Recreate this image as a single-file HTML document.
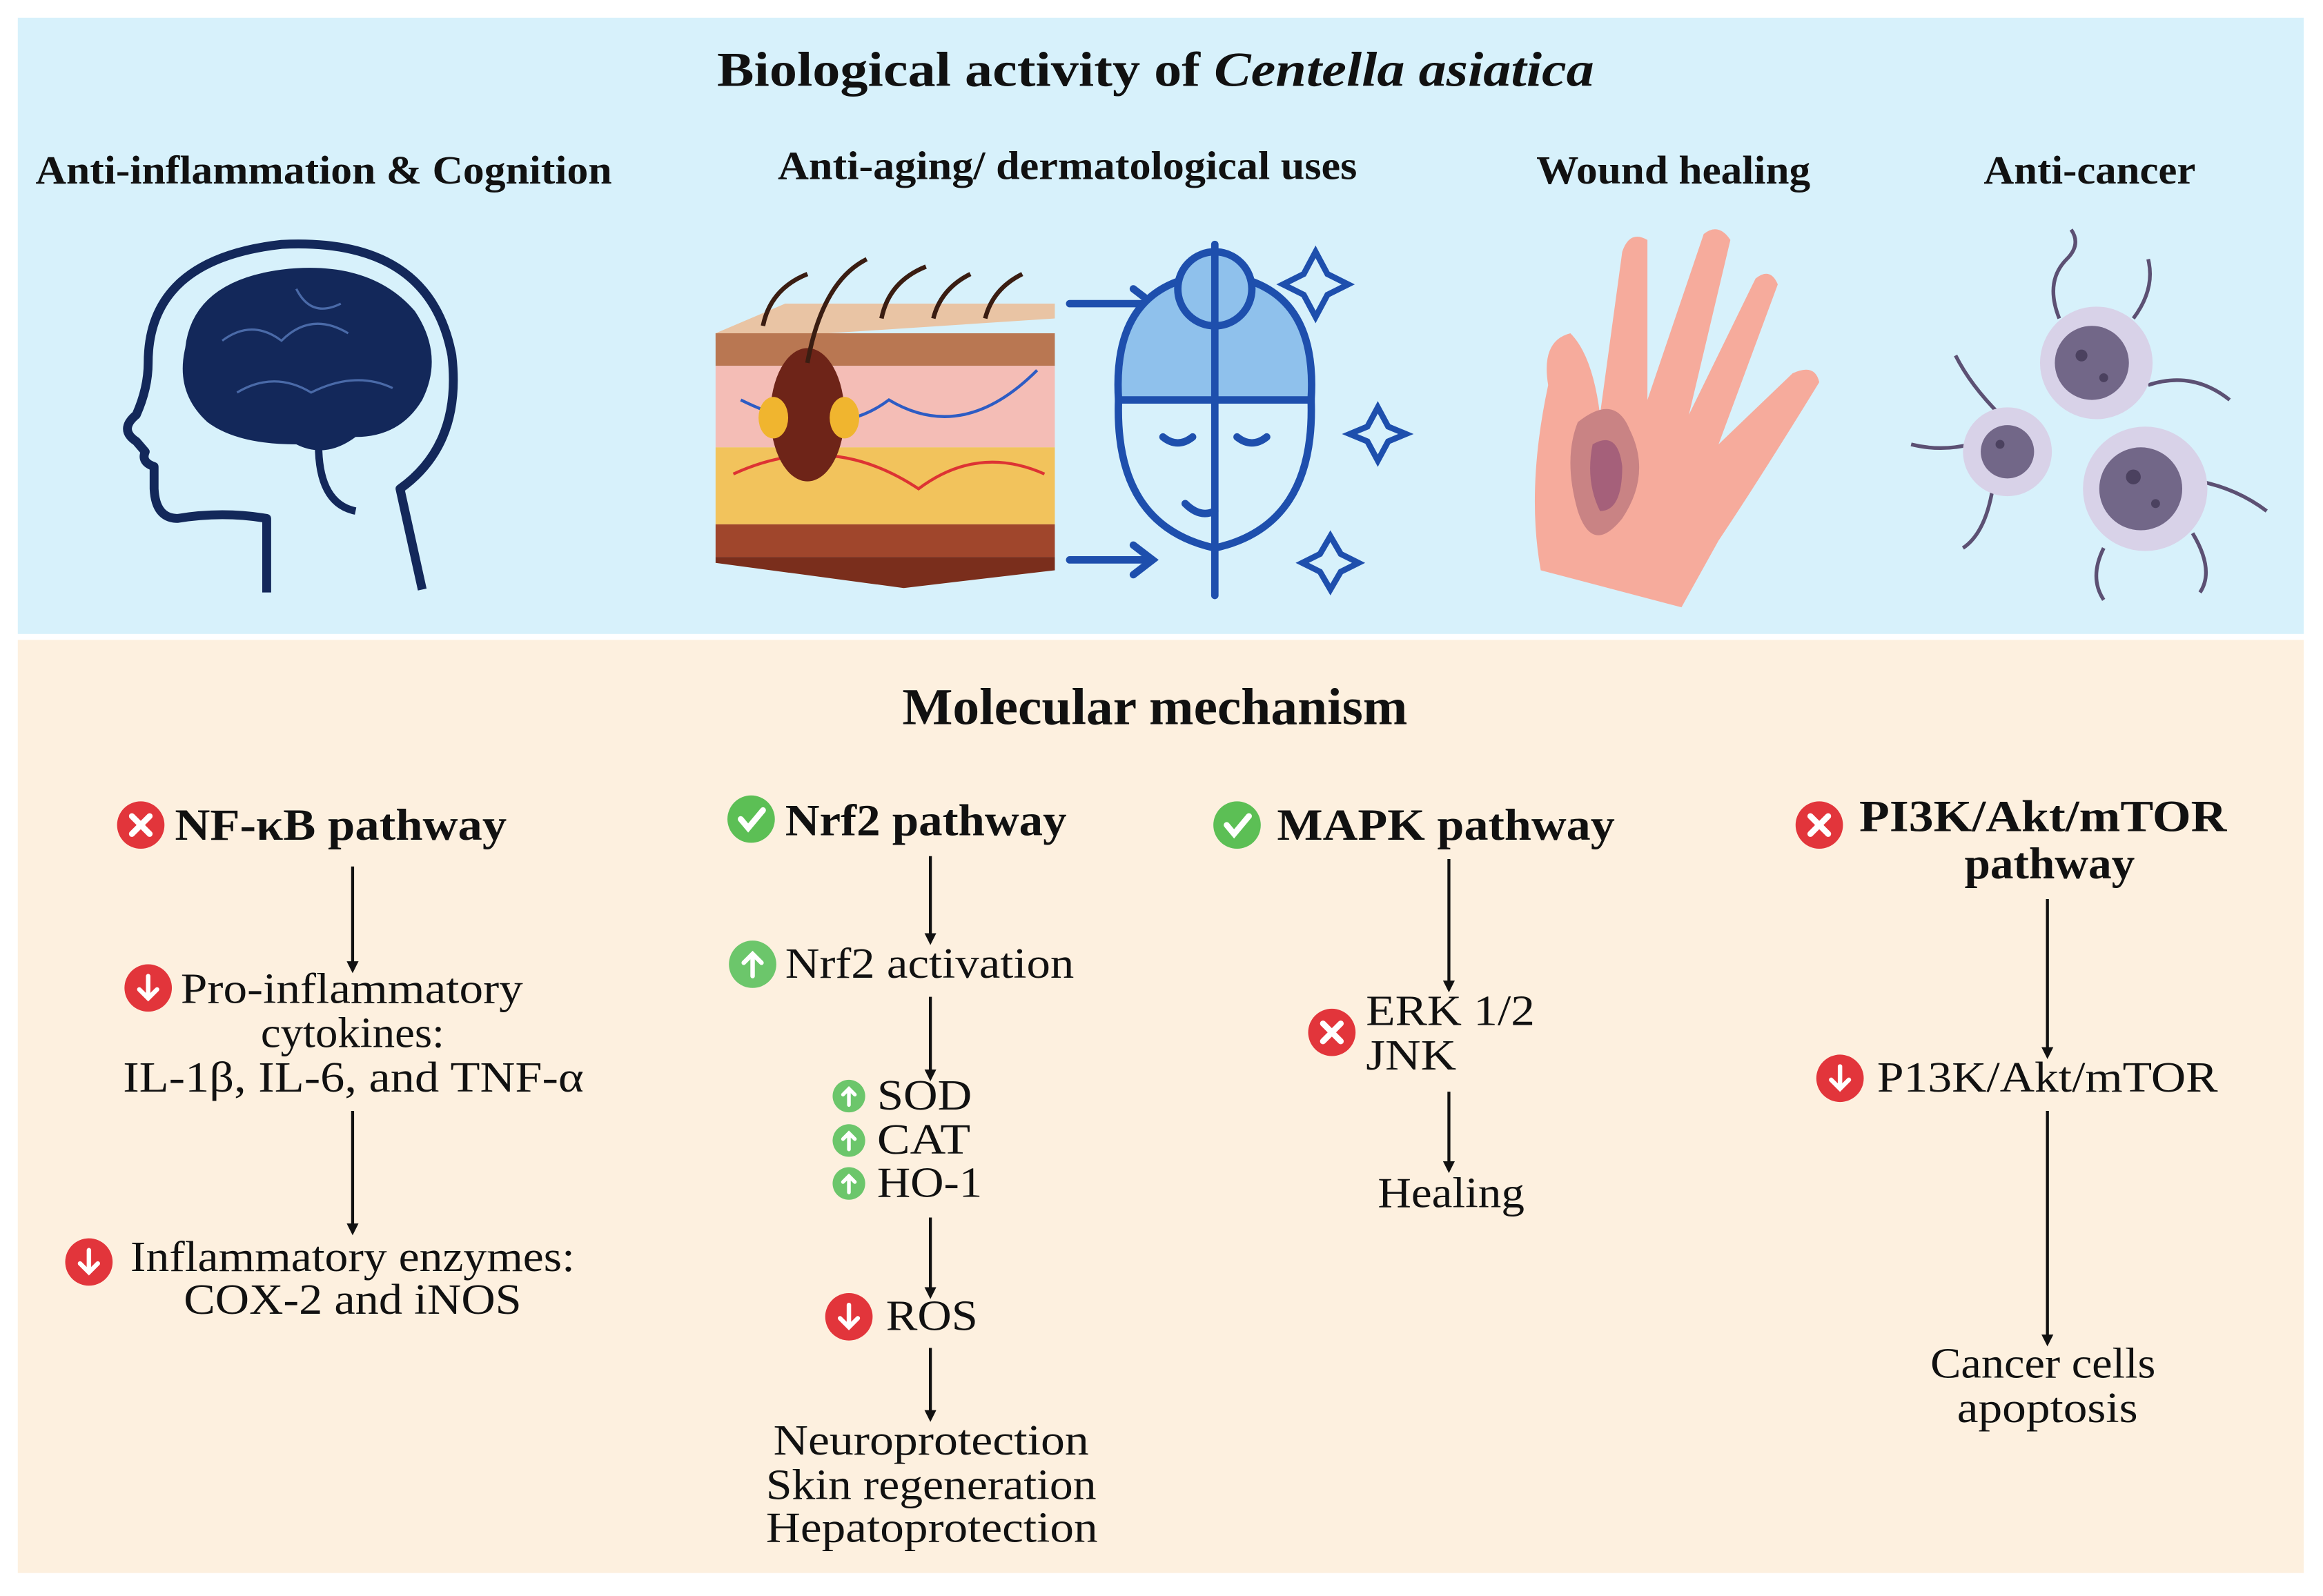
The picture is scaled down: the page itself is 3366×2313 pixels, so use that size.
<!DOCTYPE html>
<html><head><meta charset="utf-8"><style>
html,body{margin:0;padding:0;background:#fff;}
svg{display:block;}
text{font-family:"Liberation Serif",serif;fill:#111;}
.b{font-weight:bold;}
</style></head><body>
<svg width="3366" height="2313" viewBox="0 0 1568 1077.5" xmlns="http://www.w3.org/2000/svg">
<defs>
<marker id="ar" markerWidth="8" markerHeight="8" refX="6" refY="4" orient="auto" markerUnits="userSpaceOnUse">
<path d="M0,0 L8,4 L0,8 Z" fill="#111"/></marker>
<g id="xr"><circle r="16" fill="#e2353b"/><path d="M-6,-6 L6,6 M6,-6 L-6,6" stroke="#fff" stroke-width="4" stroke-linecap="round"/></g>
<g id="ck"><circle r="16" fill="#5cbf55"/><path d="M-7,0 L-2,6 L8,-6" stroke="#fff" stroke-width="4" fill="none" stroke-linecap="round"/></g>
<g id="dn"><circle r="16" fill="#e2353b"/><path d="M0,-8 L0,7 M-6,1 L0,7 L6,1" stroke="#fff" stroke-width="3" fill="none" stroke-linecap="round"/></g>
<g id="up"><circle r="16" fill="#6cc66b"/><path d="M0,8 L0,-7 M-6,-1 L0,-7 L6,-1" stroke="#fff" stroke-width="3" fill="none" stroke-linecap="round"/></g>
<g id="ups"><circle r="11" fill="#6cc66b"/><path d="M0,6 L0,-5 M-4,-1 L0,-5 L4,-1" stroke="#fff" stroke-width="2.5" fill="none" stroke-linecap="round"/></g>
</defs>
<rect x="12" y="12" width="1543" height="416" fill="#d7f1fb"/>
<rect x="12" y="432" width="1543" height="630" fill="#fdf0df"/>

<text x="484" y="58" font-size="33" class="b" textLength="592" lengthAdjust="spacingAndGlyphs">Biological activity of <tspan font-style="italic">Centella asiatica</tspan></text>
<g font-size="27" class="b">
<text x="24" y="124" textLength="389" lengthAdjust="spacingAndGlyphs">Anti-inflammation &amp; Cognition</text>
<text x="525" y="121" textLength="391" lengthAdjust="spacingAndGlyphs">Anti-aging/ dermatological uses</text>
<text x="1037" y="124" textLength="185" lengthAdjust="spacingAndGlyphs">Wound healing</text>
<text x="1339" y="124" textLength="143" lengthAdjust="spacingAndGlyphs">Anti-cancer</text>
</g>

<!-- head & brain -->
<path d="M180,400 L180,350 Q150,345 120,350 Q105,350 104,330 L104,315 Q95,312 98,305 L92,298 Q80,290 92,280 Q100,262 100,245 Q100,175 190,165 Q290,160 305,240 Q312,300 270,330 L285,398" fill="none" stroke="#13285a" stroke-width="6" stroke-linejoin="round"/>
<path d="M125,235 Q130,190 190,182 Q250,175 280,210 Q300,240 285,270 Q270,295 240,295 Q220,310 200,300 Q160,300 140,285 Q118,265 125,235 Z" fill="#13285a"/>
<path d="M215,300 Q215,340 240,345" fill="none" stroke="#13285a" stroke-width="5"/>
<g stroke="#4a6aa8" stroke-width="1.5" fill="none"><path d="M150,230 Q170,215 190,230 Q210,210 235,225"/><path d="M160,265 Q185,250 210,265 Q240,250 265,262"/><path d="M200,195 Q210,215 230,205"/></g>

<!-- skin block -->
<polygon points="483,225 530,205 712,205 712,215 483,230" fill="#e9c4a4"/>
<rect x="483" y="225" width="229" height="22" fill="#b97752"/>
<rect x="483" y="247" width="229" height="55" fill="#f4bdb6"/>
<rect x="483" y="302" width="229" height="52" fill="#f2c35c"/>
<rect x="483" y="354" width="229" height="22" fill="#a0462c"/>
<polygon points="483,376 712,376 712,385 610,397 483,380" fill="#7a2e1c"/>
<path d="M500,270 Q560,300 600,270 Q650,300 700,250" stroke="#2d5cc4" stroke-width="2" fill="none"/>
<path d="M495,320 Q560,290 620,330 Q660,300 705,320" stroke="#d33" stroke-width="2" fill="none"/>
<ellipse cx="545" cy="280" rx="25" ry="45" fill="#6e2418"/>
<ellipse cx="522" cy="282" rx="10" ry="14" fill="#f0b52f"/>
<ellipse cx="570" cy="282" rx="10" ry="14" fill="#f0b52f"/>
<g stroke="#3a1d12" stroke-width="3" fill="none">
<path d="M545,245 Q555,190 585,175"/><path d="M515,220 Q520,195 545,185"/><path d="M595,215 Q600,190 625,180"/><path d="M630,215 Q635,195 655,185"/><path d="M665,215 Q670,195 690,185"/></g>

<!-- face -->
<g stroke="#1e4fad" stroke-width="5" fill="none" stroke-linecap="round">
<path d="M722,205 L778,205 M765,195 L778,205 L765,215"/>
<path d="M722,378 L778,378 M765,368 L778,378 L765,388"/>
<path d="M755,270 Q750,190 820,185 Q890,190 885,270 Z" fill="#8fc1ec"/>
<circle cx="820" cy="195" r="25" fill="#8fc1ec"/>
<path d="M755,270 Q752,355 820,370 Q888,355 885,270"/>
<path d="M820,165 L820,402"/>
<path d="M785,295 Q795,303 805,295 M835,295 Q845,303 855,295"/>
<path d="M800,340 Q810,350 820,345"/>
<path d="M888,170 L896,185 L910,192 L896,199 L888,214 L880,199 L866,192 L880,185 Z" stroke-width="4"/>
<path d="M930,275 L937,288 L949,293 L937,298 L930,311 L923,298 L911,293 L923,288 Z" stroke-width="4"/>
<path d="M898,362 L905,374 L917,380 L905,386 L898,398 L891,386 L879,380 L891,374 Z" stroke-width="4"/>
</g>

<!-- hand -->
<path d="M1040,385 Q1030,330 1045,260 Q1040,230 1060,225 Q1075,240 1080,280 L1095,170 Q1100,155 1112,162 L1112,270 L1150,158 Q1160,150 1168,162 L1140,280 L1185,188 Q1195,180 1200,192 L1160,300 L1210,252 Q1225,245 1228,258 Q1190,320 1160,365 L1135,410 Z" fill="#f6ab9c"/>
<path d="M1065,285 Q1090,265 1100,290 Q1115,320 1095,350 Q1075,375 1065,345 Q1055,310 1065,285 Z" fill="#c98384"/>
<path d="M1075,300 Q1092,290 1095,315 Q1095,345 1080,345 Q1070,325 1075,300 Z" fill="#a5607a"/>

<!-- cells -->
<g stroke="#5c5073" stroke-width="2.5" fill="none">
<path d="M1390,215 Q1380,190 1395,175 Q1405,165 1398,155"/><path d="M1440,215 Q1455,195 1450,175"/>
<path d="M1330,300 Q1310,305 1290,300"/><path d="M1345,330 Q1340,360 1325,370"/><path d="M1350,280 Q1330,260 1320,240"/>
<path d="M1420,370 Q1410,390 1420,405"/><path d="M1480,360 Q1495,385 1485,400"/><path d="M1485,325 Q1510,330 1530,345"/><path d="M1450,260 Q1480,250 1505,270"/>
</g>
<circle cx="1415" cy="245" r="38" fill="#d8d2e8"/><circle cx="1412" cy="245" r="25" fill="#726788"/>
<circle cx="1355" cy="305" r="30" fill="#d8d2e8"/><circle cx="1355" cy="305" r="18" fill="#726788"/>
<circle cx="1448" cy="330" r="42" fill="#d8d2e8"/><circle cx="1445" cy="330" r="28" fill="#726788"/>
<g fill="#4b415f"><circle cx="1405" cy="240" r="4"/><circle cx="1420" cy="255" r="3"/><circle cx="1440" cy="322" r="5"/><circle cx="1455" cy="340" r="3"/><circle cx="1350" cy="300" r="3"/></g>

<text x="609" y="489" font-size="35" class="b" textLength="341" lengthAdjust="spacingAndGlyphs">Molecular mechanism</text>

<g font-size="30" class="b">
<use href="#xr" x="95" y="557"/><text x="118" y="567" textLength="224" lengthAdjust="spacingAndGlyphs">NF-κB pathway</text>
<use href="#ck" x="507" y="553"/><text x="530" y="564" textLength="190" lengthAdjust="spacingAndGlyphs">Nrf2 pathway</text>
<use href="#ck" x="835" y="557"/><text x="862" y="567" textLength="228" lengthAdjust="spacingAndGlyphs">MAPK pathway</text>
<use href="#xr" x="1228" y="557"/><text x="1255" y="561" textLength="248" lengthAdjust="spacingAndGlyphs">PI3K/Akt/mTOR</text>
<text x="1326" y="593" textLength="115" lengthAdjust="spacingAndGlyphs">pathway</text>
</g>

<g stroke="#111" stroke-width="2" marker-end="url(#ar)">
<line x1="238" y1="585" x2="238" y2="655"/><line x1="238" y1="750" x2="238" y2="832"/>
<line x1="628" y1="578" x2="628" y2="636"/><line x1="628" y1="673" x2="628" y2="728"/>
<line x1="628" y1="822" x2="628" y2="875"/><line x1="628" y1="910" x2="628" y2="958"/>
<line x1="978" y1="580" x2="978" y2="668"/><line x1="978" y1="737" x2="978" y2="790"/>
<line x1="1382" y1="607" x2="1382" y2="713"/><line x1="1382" y1="750" x2="1382" y2="907"/>
</g>

<g font-size="29">
<use href="#dn" x="100" y="667"/><text x="122" y="677" textLength="231" lengthAdjust="spacingAndGlyphs">Pro-inflammatory</text>
<text x="238" y="707" text-anchor="middle" textLength="124" lengthAdjust="spacingAndGlyphs">cytokines:</text>
<text x="83" y="737" textLength="311" lengthAdjust="spacingAndGlyphs">IL-1β, IL-6, and TNF-α</text>
<use href="#dn" x="60" y="852"/><text x="88" y="858" textLength="300" lengthAdjust="spacingAndGlyphs">Inflammatory enzymes:</text>
<text x="124" y="887" textLength="228" lengthAdjust="spacingAndGlyphs">COX-2 and iNOS</text>

<use href="#up" x="508" y="651"/><text x="530" y="660" textLength="195" lengthAdjust="spacingAndGlyphs">Nrf2 activation</text>
<use href="#ups" x="573" y="740"/><text x="592" y="749" textLength="64" lengthAdjust="spacingAndGlyphs">SOD</text>
<use href="#ups" x="573" y="770"/><text x="592" y="779" textLength="63" lengthAdjust="spacingAndGlyphs">CAT</text>
<use href="#ups" x="573" y="799"/><text x="592" y="808" textLength="71" lengthAdjust="spacingAndGlyphs">HO-1</text>
<use href="#dn" x="573" y="889"/><text x="598" y="898" textLength="62" lengthAdjust="spacingAndGlyphs">ROS</text>
<text x="522" y="982" textLength="213" lengthAdjust="spacingAndGlyphs">Neuroprotection</text>
<text x="517" y="1012" textLength="223" lengthAdjust="spacingAndGlyphs">Skin regeneration</text>
<text x="517" y="1041" textLength="224" lengthAdjust="spacingAndGlyphs">Hepatoprotection</text>

<use href="#xr" x="899" y="697"/><text x="922" y="692" textLength="114" lengthAdjust="spacingAndGlyphs">ERK 1/2</text>
<text x="922" y="722" textLength="61" lengthAdjust="spacingAndGlyphs">JNK</text>
<text x="930" y="815" textLength="99" lengthAdjust="spacingAndGlyphs">Healing</text>

<use href="#dn" x="1242" y="728"/><text x="1267" y="737" textLength="230" lengthAdjust="spacingAndGlyphs">P13K/Akt/mTOR</text>
<text x="1303" y="930" textLength="152" lengthAdjust="spacingAndGlyphs">Cancer cells</text>
<text x="1321" y="960" textLength="122" lengthAdjust="spacingAndGlyphs">apoptosis</text>
</g>
</svg>
</body></html>
